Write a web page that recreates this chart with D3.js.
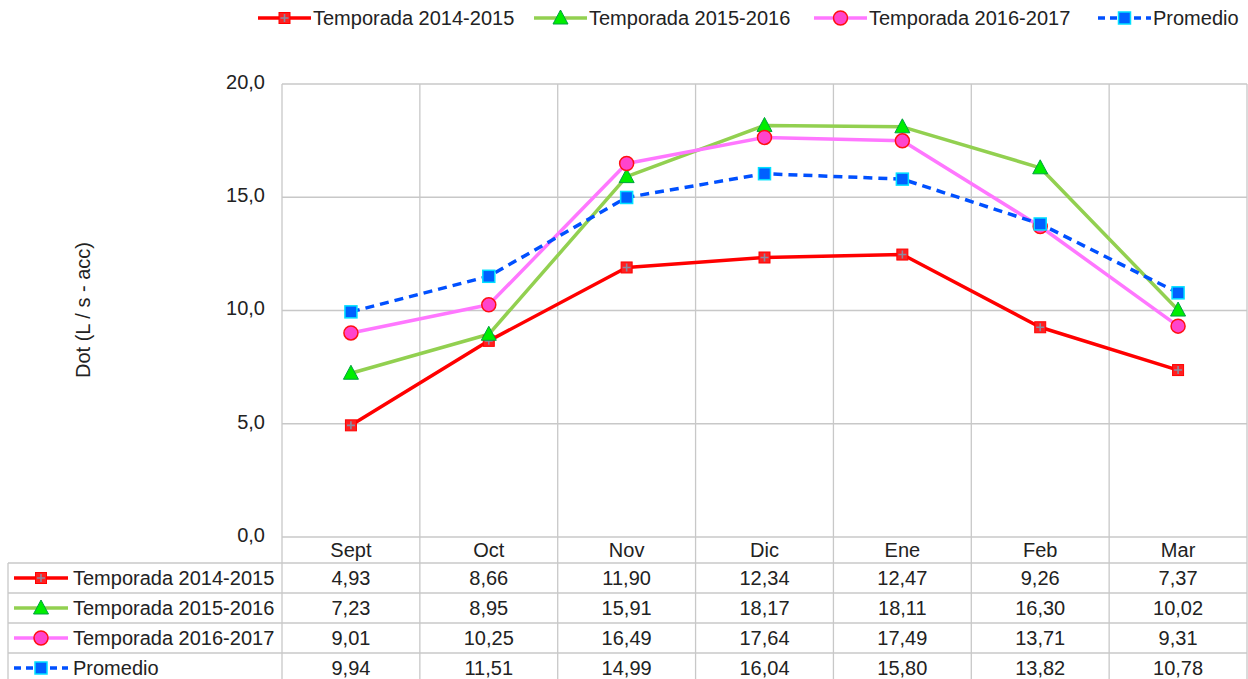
<!DOCTYPE html>
<html>
<head>
<meta charset="utf-8">
<script src="https://cdn.jsdelivr.net/npm/d3@7"></script>
<style>
  body { margin: 0; background: #fff; }
  svg { font-family: "Liberation Sans", Arial, sans-serif; }
</style>
</head>
<body>
<svg width="1248" height="679"></svg>
<script>
// datos
const meses = ["Sept", "Oct", "Nov", "Dic", "Ene", "Feb", "Mar"];
const nombres = ["Temporada 2014-2015", "Temporada 2015-2016", "Temporada 2016-2017", "Promedio"];
const t1415 = [4.93, 8.66, 11.90, 12.34, 12.47, 9.26, 7.37];
const t1516 = [7.23, 8.95, 15.91, 18.17, 18.11, 16.30, 10.02];
const t1617 = [9.01, 10.25, 16.49, 17.64, 17.49, 13.71, 9.31];
const promedio = [9.94, 11.51, 14.99, 16.04, 15.80, 13.82, 10.78];
const yTicks = [0, 5, 10, 15, 20];

const estilos = [
  { line: "#ff0000", fill: "#ff2020", stroke: "#ff0000", shape: "cross", dash: null },
  { line: "#92d050", fill: "#00ee00", stroke: "#00a040", shape: "tri", dash: null },
  { line: "#ff77ff", fill: "#ff44cc", stroke: "#ff1010", shape: "circle", dash: null },
  { line: "#0050ff", fill: "#0060ff", stroke: "#00e0ff", shape: "square", dash: "9,6" }
];
const series = [t1415, t1516, t1617, promedio].map((v, i) => ({ name: nombres[i], values: v, st: estilos[i] }));

const svg = d3.select("svg");
const fmt = v => v.toFixed(2).replace(".", ",");
const fmt1 = v => v.toFixed(1).replace(".", ",");
const fs = 20;

const pLeft = 282, pRight = 1247, pTop = 84, pBottom = 537;
const x = d3.scaleBand().domain(meses).range([pLeft, pRight]);
const y = d3.scaleLinear().domain([0, 20]).range([pBottom, pTop]);
const grid = "#c8c8c8";

// rejilla
svg.append("g").selectAll("line").data(yTicks).join("line")
  .attr("x1", pLeft).attr("x2", pRight)
  .attr("y1", d => y(d)).attr("y2", d => y(d))
  .attr("stroke", grid).attr("stroke-width", 1.3);
const bordes = meses.map(m => x(m)).concat([pRight]);
svg.append("g").selectAll("line").data(bordes).join("line")
  .attr("x1", d => d).attr("x2", d => d)
  .attr("y1", pTop).attr("y2", 679)
  .attr("stroke", grid).attr("stroke-width", 1.3);

// eje y
const yAxis = svg.append("g").attr("transform", `translate(${pLeft},0)`)
  .call(d3.axisLeft(y).tickValues(yTicks).tickFormat(fmt1).tickSize(0).tickPadding(17));
yAxis.select(".domain").remove();
yAxis.selectAll("text").attr("font-size", fs).attr("fill", "#222")
  .attr("font-family", "Liberation Sans, Arial, sans-serif").attr("dy", "0.22em");

svg.append("text")
  .attr("transform", `translate(90,310) rotate(-90)`)
  .attr("text-anchor", "middle").attr("font-size", fs).attr("fill", "#222")
  .text("Dot (L / s - acc)");

// tabla
const rowTop = 563, rowH = 30, tLeft = 8;
svg.append("g").selectAll("line").data(d3.range(5)).join("line")
  .attr("x1", tLeft).attr("x2", pRight)
  .attr("y1", d => rowTop + d * rowH).attr("y2", d => rowTop + d * rowH)
  .attr("stroke", grid).attr("stroke-width", 1.3);
svg.append("line").attr("x1", tLeft).attr("x2", tLeft).attr("y1", rowTop).attr("y2", 679)
  .attr("stroke", grid).attr("stroke-width", 1.3);

svg.append("g").selectAll("text").data(meses).join("text")
  .attr("x", d => x(d) + x.bandwidth() / 2).attr("y", 557)
  .attr("text-anchor", "middle").attr("font-size", fs).attr("fill", "#222")
  .text(d => d);

function marcador(g, st, cx, cy) {
  if (st.shape === "cross") {
    g.append("rect").attr("x", cx - 5.5).attr("y", cy - 5.5).attr("width", 11).attr("height", 11)
      .attr("fill", st.fill).attr("stroke", st.stroke).attr("stroke-width", 1);
    g.append("path").attr("d", `M${cx - 4},${cy}H${cx + 4}M${cx},${cy - 4}V${cy + 4}`)
      .attr("stroke", "#8a8aa0").attr("stroke-width", 1.6);
  } else if (st.shape === "tri") {
    g.append("path").attr("d", `M${cx},${cy - 8}L${cx + 7.5},${cy + 6}L${cx - 7.5},${cy + 6}Z`)
      .attr("fill", st.fill).attr("stroke", st.stroke).attr("stroke-width", 1);
  } else if (st.shape === "circle") {
    g.append("circle").attr("cx", cx).attr("cy", cy).attr("r", 7)
      .attr("fill", st.fill).attr("stroke", st.stroke).attr("stroke-width", 1.5);
  } else {
    g.append("rect").attr("x", cx - 6).attr("y", cy - 6).attr("width", 12).attr("height", 12)
      .attr("fill", st.fill).attr("stroke", st.stroke).attr("stroke-width", 1.5);
  }
}

function muestra(g, st, x0, x1, cy) {
  g.append("line").attr("x1", x0).attr("x2", x1).attr("y1", cy).attr("y2", cy)
    .attr("stroke", st.line).attr("stroke-width", 3.5)
    .attr("stroke-dasharray", st.dash ? "7,5" : null);
  marcador(g, st, (x0 + x1) / 2, cy);
}

series.forEach((s, i) => {
  const cy = rowTop + i * rowH + rowH / 2;
  const g = svg.append("g");
  muestra(g, s.st, 14, 68, cy);
  g.append("text").attr("x", 73).attr("y", cy + 7).attr("font-size", fs).attr("fill", "#222").text(s.name);
  g.selectAll("text.v").data(s.values).join("text").attr("class", "v")
    .attr("x", (d, j) => x(meses[j]) + x.bandwidth() / 2).attr("y", cy + 7)
    .attr("text-anchor", "middle").attr("font-size", fs).attr("fill", "#222")
    .text(d => fmt(d));
});

// lineas
const linea = d3.line().x((d, j) => x(meses[j]) + x.bandwidth() / 2).y(d => y(d));
series.forEach(s => {
  svg.append("path").attr("d", linea(s.values)).attr("fill", "none")
    .attr("stroke", s.st.line).attr("stroke-width", 3.5)
    .attr("stroke-linejoin", "round")
    .attr("stroke-dasharray", s.st.dash);
});
series.forEach(s => {
  const g = svg.append("g");
  s.values.forEach((v, j) => marcador(g, s.st, x(meses[j]) + x.bandwidth() / 2, y(v)));
});

// leyenda
const leyX = [258, 534, 814, 1098];
series.forEach((s, i) => {
  const g = svg.append("g");
  muestra(g, s.st, leyX[i], leyX[i] + 53, 18);
  g.append("text").attr("x", leyX[i] + 55).attr("y", 25).attr("font-size", fs).attr("fill", "#222").text(s.name);
});
</script>
</body>
</html>
